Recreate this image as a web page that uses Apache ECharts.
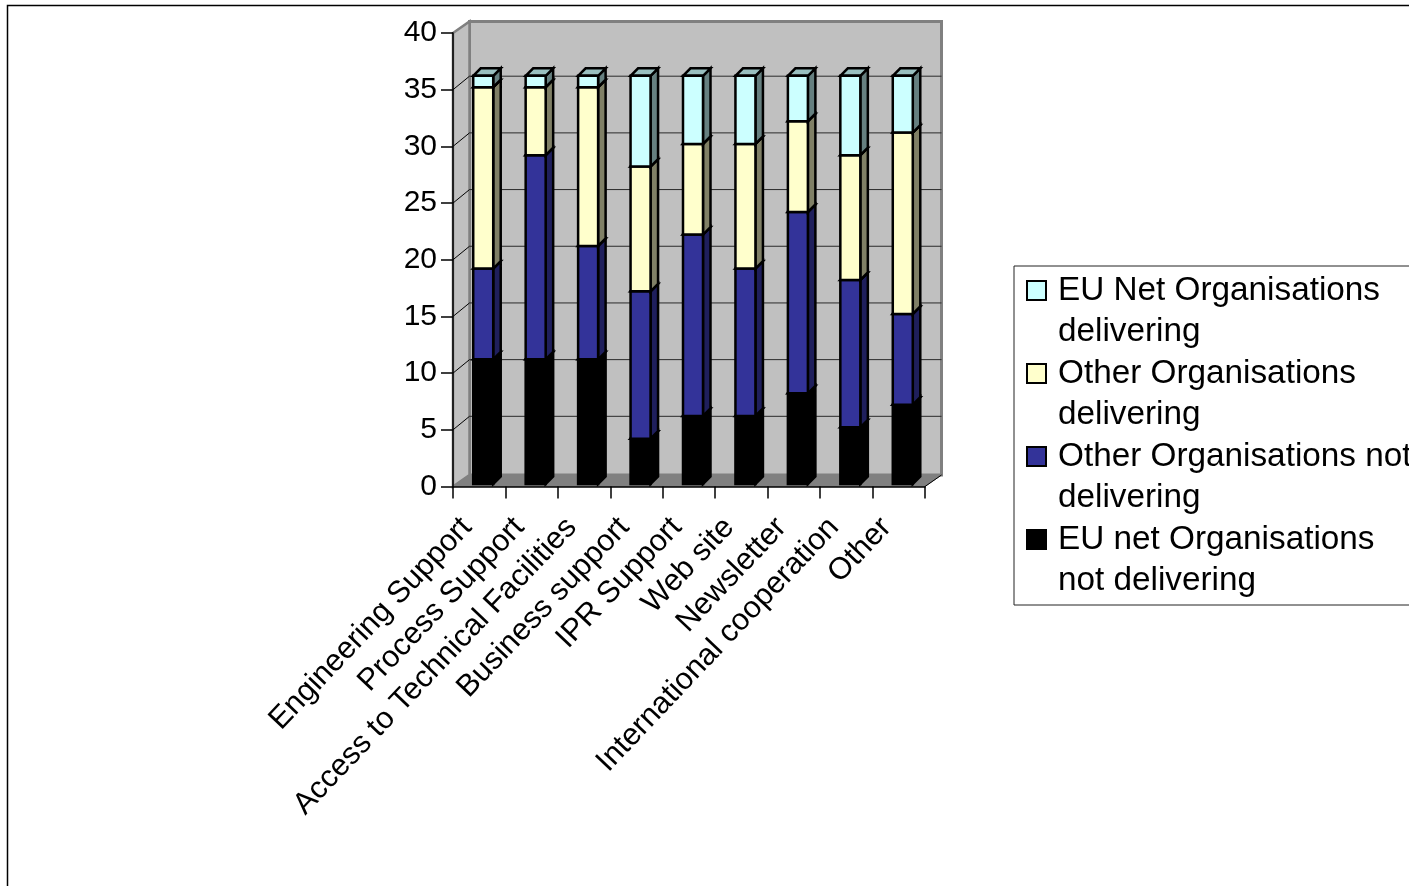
<!DOCTYPE html>
<html>
<head>
<meta charset="utf-8">
<style>html,body{margin:0;padding:0;background:#fff;overflow:hidden}#chart{width:1409px;height:886px}</style>
<script src="https://cdn.jsdelivr.net/npm/echarts@6/dist/echarts.min.js"></script>
</head>
<body>
<div id="chart"></div>
<script>
// Organisations delivering support services, counted per service
const categories = ['Engineering Support','Process Support','Access to Technical Facilities','Business support','IPR Support','Web site','Newsletter','International cooperation','Other'];
const euNetNotDelivering = [11, 11, 11, 4, 6, 6, 8, 5, 7];
const otherNotDelivering = [8, 18, 10, 13, 16, 13, 16, 13, 8];
const otherDelivering = [16, 6, 14, 11, 8, 11, 8, 11, 16];
const euNetDelivering = [1, 1, 1, 8, 6, 6, 4, 7, 5];

const stackNames = ['EU net Organisations\nnot delivering','Other Organisations not\ndelivering','Other Organisations\ndelivering','EU Net Organisations\ndelivering'];
const stackValues = [euNetNotDelivering, otherNotDelivering, otherDelivering, euNetDelivering];
// front, side and top face colours of each stack segment
const stackFaces = [
  ['#000000','#000000','#000000'],
  ['#333399','#1f1f5c','#29297a'],
  ['#ffffcc','#808066','#bfbf99'],
  ['#ccffff','#668080','#99bfbf']
];
const yTicks = [0,5,10,15,20,25,30,35,40];

const WALL_DX = 16.5, WALL_DY = -11.5; // depth of the chart box
const GRID_DY = -13.5;                 // gridlines sit on the back wall
const BAR_DX = 7.5, BAR_DY = -7.5;     // depth of one bar
const BAR_W = 20, BAR_SHIFT = 4, BAR_LIFT = 2.5;

function poly(points, fill, stroke, width) {
  return {type:'polygon', shape:{points}, style:{fill, stroke, lineWidth:width, lineJoin:'miter'}};
}

function renderWalls(params, api) {
  const o = api.coord([0, 0]);
  const t = api.coord([0, 40]);
  const band = api.size([1, 0])[0];
  const x0 = o[0] - band / 2, x1 = x0 + band * categories.length;
  const y0 = o[1], y1 = t[1];
  const dx = WALL_DX, dy = WALL_DY;
  const kids = [
    poly([[x0+dx,y1+dy],[x1+dx,y1+dy],[x1+dx,y0+dy],[x0+dx,y0+dy]], '#c0c0c0', '#808080', 3),
    poly([[x0,y1],[x0+dx,y1+dy],[x0+dx,y0+dy],[x0,y0]], '#c0c0c0', '#808080', 2.5),
    poly([[x0,y0],[x0+dx,y0+dy],[x1+dx,y0+dy],[x1,y0]], '#808080', '#808080', 1)
  ];
  yTicks.forEach(v => {
    const y = api.coord([0, v])[1];
    if (v > 0 && v < 40) {
      kids.push({type:'line', shape:{x1:x0+dx,y1:y+GRID_DY,x2:x1+dx,y2:y+GRID_DY}, style:{stroke:'#2a2a2a',lineWidth:1}});
      kids.push({type:'line', shape:{x1:x0,y1:y,x2:x0+dx,y2:y+GRID_DY}, style:{stroke:'#000',lineWidth:1}});
    }
  });
  kids.push({type:'line', shape:{x1:x1,y1:y0,x2:x1+dx,y2:y0+dy}, style:{stroke:'#000',lineWidth:1}});
  return {type:'group', children:kids};
}

function renderSegment(faces) {
  return function (params, api) {
    const cat = api.value(0);
    const lo = api.coord([cat, api.value(1)]);
    const hi = api.coord([cat, api.value(2)]);
    const l = lo[0] + BAR_SHIFT - BAR_W / 2, r = l + BAR_W;
    const yb = lo[1] - BAR_LIFT, yt = hi[1] - BAR_LIFT;
    return {type:'group', children:[
      poly([[r,yt],[r+BAR_DX,yt+BAR_DY],[r+BAR_DX,yb+BAR_DY],[r,yb]], faces[1], '#000', 2.5),
      poly([[l,yt],[l+BAR_DX,yt+BAR_DY],[r+BAR_DX,yt+BAR_DY],[r,yt]], faces[2], '#000', 2.5),
      poly([[l,yt],[r,yt],[r,yb],[l,yb]], faces[0], '#000', 2.5)
    ]};
  };
}

const segmentSeries = stackValues.map((vals, s) => ({
  type:'custom',
  name:stackNames[s],
  coordinateSystem:'cartesian2d',
  clip:false,
  z:3,
  renderItem:renderSegment(stackFaces[s]),
  itemStyle:{color:stackFaces[s][0]},
  encode:{x:0, y:[1,2]},
  data:vals.map((v, i) => {
    let base = 0;
    for (let k = 0; k < s; k++) base += stackValues[k][i];
    return [i, base, base + v];
  })
}));

// Swatch in the upper part of a two-line legend row; the bare moves stretch the icon's box
const swatch = 'path://M0 0M26 81M0 10H19V29H0Z';
const legendItems = stackNames.map((name, s) => ({
  name, icon:swatch,
  itemStyle:{color:stackFaces[s][0], borderColor:'#000', borderWidth:2}
})).reverse();

const font = 'Liberation Sans';
const chart = echarts.init(document.getElementById('chart'), null, {renderer:'canvas'});
chart.setOption({
  animation:false,
  backgroundColor:'#ffffff',
  textStyle:{fontFamily:font},
  grid:{left:453, top:33, width:472, height:453.5, containLabel:false},
  legend:{
    left:1014, top:266, orient:'vertical',
    padding:[4,40,3,12],
    itemWidth:26, itemHeight:81, itemGap:0,
    backgroundColor:'#fff', borderColor:'#222', borderWidth:1,
    selectedMode:false,
    textStyle:{fontFamily:font, fontSize:33.3, lineHeight:40.5, color:'#000'},
    data:legendItems
  },
  xAxis:{
    type:'category', data:categories, z:5,
    axisLine:{show:true, lineStyle:{color:'#000', width:1.5}},
    axisTick:{show:true, length:12, alignWithLabel:false, lineStyle:{color:'#000', width:1.5}},
    axisLabel:{rotate:46.5, interval:0, margin:23, fontSize:30.6, color:'#000', fontFamily:font, hideOverlap:false, padding:[0,18,0,0]},
    splitLine:{show:false}
  },
  yAxis:{
    type:'value', min:0, max:40, interval:5, z:5,
    axisLine:{show:true, lineStyle:{color:'#000', width:1.5}},
    axisTick:{show:true, length:12, lineStyle:{color:'#000', width:1.5}},
    axisLabel:{margin:16, fontSize:30, color:'#000', fontFamily:font},
    splitLine:{show:false}
  },
  graphic:[{
    type:'polyline', silent:true, z:10,
    shape:{points:[[7.5,890],[7.5,5.5],[1412,5.5]]},
    style:{fill:null, stroke:'#000', lineWidth:1.5}
  }],
  series:[{
    type:'custom', name:'box', coordinateSystem:'cartesian2d', clip:false, silent:true, z:1,
    renderItem:renderWalls, data:[[0,0]]
  }].concat(segmentSeries)
});
</script>
</body>
</html>
